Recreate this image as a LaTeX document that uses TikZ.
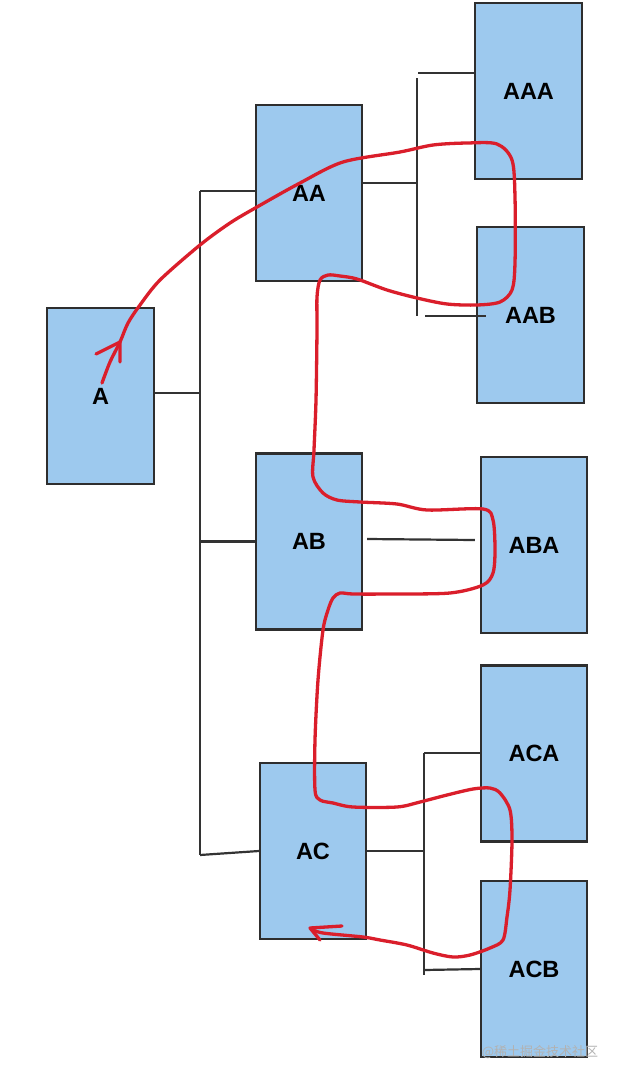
\documentclass[tikz,border=0pt]{standalone}
\usepackage{fontspec}
\setmainfont{Liberation Sans}
\newfontfamily\cjk{Noto Sans CJK SC}
\usetikzlibrary{calc}
\definecolor{boxfill}{HTML}{9DC9EE}
\definecolor{boxline}{HTML}{2E2E2E}
\definecolor{penred}{HTML}{DA1E2B}
\definecolor{connc}{HTML}{333333}
\begin{document}
\begin{tikzpicture}[x=1pt,y=-1pt,
  box/.style={draw=boxline, fill=boxfill, line width=2.2pt, minimum width=106pt, minimum height=176pt, inner sep=0pt, font=\fontsize{23.5}{27}\selectfont\bfseries},
  conn/.style={draw=connc, line width=2.2pt},
  pen/.style={draw=penred, line width=3.3pt, line cap=round, line join=round}]
\useasboundingbox (0,0) rectangle (618,1079);
\fill[white] (0,0) rectangle (618,1079);
% boxes
\node[box, minimum width=107pt] (A)   at (100.5,396) {A};
\node[box] (AA)  at (309,193) {AA};
\node[box, minimum width=107pt] (AAA) at (528.5,91) {AAA};
\node[box, minimum width=107pt] (AAB) at (530.5,315) {AAB};
\node[box] (AB)  at (309,541.5) {AB};
\node[box] (ABA) at (534,545) {ABA};
\node[box] (ACA) at (534,753.5) {ACA};
\node[box] (AC)  at (313,851) {AC};
\node[box] (ACB) at (534,969) {ACB};
% trunk from A
\coordinate (tA) at (200,393);
\coordinate (tTop) at (200,191);
\coordinate (tBot) at (200,855);
\draw[conn] (A.east |- tA) -- (tA);
\draw[conn] (tTop) -- (tBot);
\draw[conn] (tTop) -- (tTop -| AA.west);
\draw[conn] (200,541.5) -- (AB.west);
\draw[conn] (tBot) -- (AC.west);
% AA branch
\coordinate (sA) at (417,183);
\coordinate (sAt) at (417,73);
\coordinate (sAb) at (417,316);
\draw[conn] (sA -| AA.east) -- (sA);
\draw[conn] ([yshift=-5pt]sAt) -- (sAb);
\draw[conn] ([xshift=1pt]sAt) -- (sAt -| AAA.west);
\draw[conn] ($(sAb)+(8,0)$) -- ($(sAb -| AAB.west)+(10,0)$);
% AB branch
\draw[conn] ($(AB.east)+(4,-2.5)$) -- ($(ABA.west)+(-5,-5)$);
% AC branch
\coordinate (sC) at (424,851);
\coordinate (sCt) at (424,753);
\coordinate (sCb) at (424,975);
\draw[conn] (sC -| AC.east) -- (sC);
\draw[conn] (sCt) -- (sCb);
\draw[conn] (sCt) -- (sCt -| ACA.west);
\draw[conn] (424,970) -- (ACB.west |- 0,969);
% red hand-drawn traversal
\draw[pen] plot[smooth, tension=0.5] coordinates {
 (102,383) (110,362) (120,342) (128,323) (140,305) (160,280) (200,245) (230,223)
 (257,207) (300,183) (343,162) (400,152) (433,145) (467,143) (497,144) (512,160)
 (515,197) (515,263) (512,290) (500,302) (477,305) (447,304) (417,298) (387,290)
 (357,279) (340,276) (328,275) (320,280) (317,297) (317,330) (316,400) (314,450)
 (313,477) (323,493) (337,500) (360,502) (397,504) (427,510) (483,509) (493,520)
 (495,550) (493,573) (483,585) (450,593) (390,594) (353,594) (340,593) (333,598)
 (328,610) (323,630) (318,680) (315,740) (315,790) (320,800) (333,803) (353,807)
 (397,807) (420,802) (447,795) (473,789) (490,788) (500,793) (510,810) (512,840)
 (510,890) (507,917) (503,940) (490,948) (470,955) (453,957) (433,953) (407,945)
 (380,940) (363,937) (323,933) (311,929)};
\coordinate (h1) at (120,342);
\coordinate (h2) at (310,928);
\draw[pen] (96,354) -- (h1) -- (120,362);
\draw[pen] (342,926) -- (h2) -- (320,940);
% watermark
\node[text=gray!60, font=\cjk\fontsize{13}{15}\selectfont, inner sep=0pt] (wm) at (540,1052) {@稀土掘金技术社区};
\end{tikzpicture}
\end{document}
